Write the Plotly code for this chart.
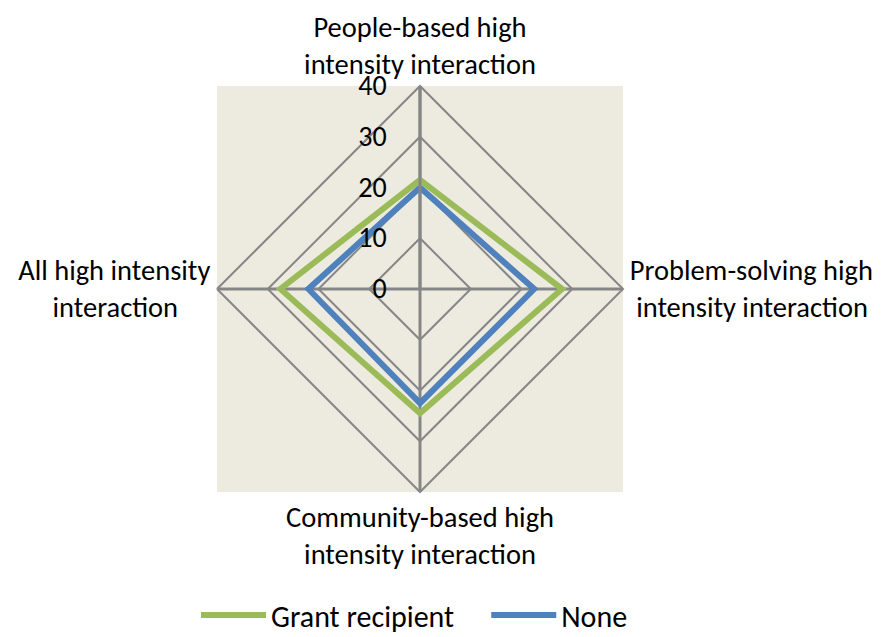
import plotly.graph_objects as go

NB = "\u00a0"
categories = ["People-based high<br>intensity interaction",
              "Problem-solving high<br>" + NB + "intensity interaction",
              "Community-based high<br>intensity interaction",
              "All high intensity<br>interaction" + NB * 5]
grant_recipient = [21.5, 28, 24.5, 27.5]
none_values = [20, 22.5, 22.5, 22]
radial_ticks = [0, 10, 20, 30, 40]
series_names = ["Grant recipient" + NB * 4, "None"]

# the page body has an 8px margin, so all positions are offset by 8px;
# the figure is a bit taller than the window so the legend never pushes
# the bottom margin (the window simply crops the empty strip below it)
W, H = 874, 660
cx, cy, R = 412, 281, 203
dom_x = [(cx - R) / W, (cx + R) / W]
dom_y = [(H - cy - R) / H, (H - cy + R) / H]

font_family = "Carlito, Calibri, Liberation Sans, Arial, sans-serif"

fig = go.Figure()
fig.add_trace(go.Scatterpolar(
    r=grant_recipient + grant_recipient[:1],
    theta=categories + categories[:1],
    mode="lines", name=series_names[0],
    line=dict(color="#9BBB59", width=6)))
fig.add_trace(go.Scatterpolar(
    r=none_values + none_values[:1],
    theta=categories + categories[:1],
    mode="lines", name=series_names[1],
    line=dict(color="#4F81BD", width=6)))

fig.update_layout(
    width=W, height=H,
    margin=dict(l=0, r=0, t=0, b=0),
    paper_bgcolor="white",
    font=dict(family=font_family, size=28, color="black"),
    shapes=[dict(type="rect", xref="paper", yref="paper",
                 x0=dom_x[0], x1=dom_x[1], y0=dom_y[0], y1=dom_y[1],
                 fillcolor="#EDEBE0", line=dict(width=0), layer="below")],
    polar=dict(
        domain=dict(x=dom_x, y=dom_y),
        bgcolor="rgba(0,0,0,0)",
        gridshape="linear",
        angularaxis=dict(
            rotation=90, direction="clockwise",
            showline=True, linecolor="#868686", linewidth=2,
            gridcolor="#868686", gridwidth=3,
            ticks="", tickfont=dict(size=28.5)),
        radialaxis=dict(
            range=[0, 40], tickvals=radial_ticks,
            angle=90, tickangle=90,
            showline=True, linecolor="#868686", linewidth=3,
            gridcolor="#868686", gridwidth=2,
            ticks="outside", ticklen=22, tickcolor="rgba(0,0,0,0)",
            side="counterclockwise",
            tickfont=dict(size=28)),
    ),
    legend=dict(orientation="h", x=406.5 / W, xanchor="center",
                y=(H - 607) / H, yanchor="middle",
                font=dict(size=30), itemwidth=65),
)

fig.write_html("out.html")
